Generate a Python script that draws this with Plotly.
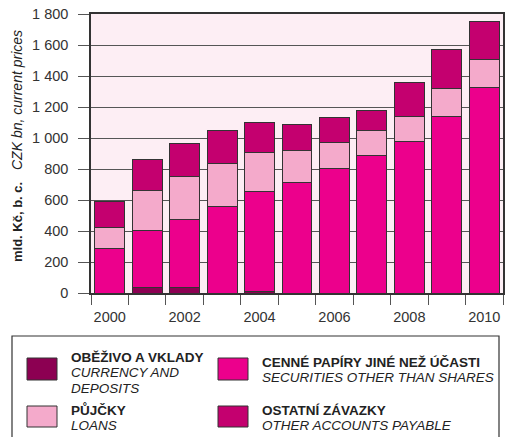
import plotly.graph_objects as go

years = [2000, 2001, 2002, 2003, 2004, 2005, 2006, 2007, 2008, 2009, 2010]
currency = [0, 37, 35, 0, 10, 0, 0, 0, 0, 0, 0]
securities = [284, 366, 439, 558, 647, 713, 803, 889, 980, 1139, 1327]
loans = [136, 258, 280, 278, 250, 204, 170, 160, 159, 181, 181]
other = [170, 201, 209, 211, 191, 173, 160, 129, 220, 250, 245]

series_cz = ["OBĚŽIVO A VKLADY", "CENNÉ PAPÍRY JINÉ NEŽ ÚČASTI", "PŮJČKY", "OSTATNÍ ZÁVAZKY"]
series_en = [["CURRENCY AND", "DEPOSITS"], ["SECURITIES OTHER THAN SHARES"], ["LOANS"], ["OTHER ACCOUNTS PAYABLE"]]
colors = ["#8c0052", "#ec008c", "#f4aacb", "#c4006f"]

y_ticks = [0, 200, 400, 600, 800, 1000, 1200, 1400, 1600, 1800]
y_ticktext = ["0", "200", "400", "600", "800", "1 000", "1 200", "1 400", "1 600", "1 800"]
x_ticktext = [str(y) if y % 2 == 0 else "" for y in years]

FONT = "Liberation Sans, Arial, Helvetica, sans-serif"
W, H = 510, 437
L, R, T, B = 91, 503, 14, 293


def px(x):
    return (x - L) / (R - L)


def py(y):
    return (B - y) / (B - T)


fig = go.Figure()
xcat = [str(y) for y in years]
for vals, col, name in zip([currency, securities, loans, other], colors, series_cz):
    fig.add_trace(go.Bar(
        x=xcat, y=vals, name=name, marker=dict(color=col, line=dict(color="#333333", width=1)),
        showlegend=False,
    ))

shapes = []
annotations = []

# legend box
shapes.append(dict(type="rect", xref="paper", yref="paper", x0=px(12), x1=px(499), y0=py(445), y1=py(336),
                   line=dict(color="#333333", width=1.2), fillcolor="rgba(0,0,0,0)", layer="above"))

sw = [(27, 57, 358, 380), (218, 248, 358, 380), (27, 57, 406, 427), (218, 248, 406, 427)]
text_x = [69, 260, 69, 260]
first_y = [357, 362, 410, 410]
for i in range(4):
    x0, x1, y0, y1 = sw[i]
    shapes.append(dict(type="rect", xref="paper", yref="paper", x0=px(x0), x1=px(x1), y0=py(y1), y1=py(y0),
                       line=dict(color="#333333", width=1), fillcolor=colors[i], layer="above"))
    lines = ["<b>" + series_cz[i] + "</b>"] + ["<i>" + t + "</i>" for t in series_en[i]]
    for j, t in enumerate(lines):
        annotations.append(dict(xref="paper", yref="paper", x=px(text_x[i]), y=py(first_y[i] + 15.5 * j),
                                xanchor="left", yanchor="middle", text=t, showarrow=False,
                                font=dict(family=FONT, size=13.5, color="#222222")))

# y axis title (two parts)
annotations.append(dict(xref="paper", yref="paper", x=px(18), y=py(222), text="<b>mld. Kč, b. c.</b>",
                        textangle=-90, showarrow=False, xanchor="center", yanchor="middle",
                        font=dict(family=FONT, size=13, color="#222222")))
annotations.append(dict(xref="paper", yref="paper", x=px(17), y=py(100), text="<i>CZK bn, current prices</i>",
                        textangle=-90, showarrow=False, xanchor="center", yanchor="middle",
                        font=dict(family=FONT, size=14, color="#222222")))

fig.update_layout(
    width=W, height=H,
    margin=dict(l=L, r=W - R, t=T, b=H - B, autoexpand=False),
    barmode="stack", bargap=0.2,
    plot_bgcolor="#fdeef4", paper_bgcolor="white",
    font=dict(family=FONT, color="#333333"),
    shapes=shapes, annotations=annotations,
    showlegend=False,
)
fig.update_xaxes(
    type="category", tickvals=xcat, ticktext=x_ticktext, tickson="boundaries", tickangle=0,
    ticks="outside", ticklen=10, tickcolor="#555555", tickwidth=1,
    showline=True, linecolor="#333333", linewidth=1.5, mirror=True, automargin=False,
    showgrid=False, tickfont=dict(size=14.5, color="#333333"), ticklabelstandoff=10,
)
fig.update_yaxes(
    range=[0, 1800], tickvals=y_ticks, ticktext=y_ticktext, automargin=False,
    ticks="outside", ticklen=11, tickcolor="#555555", tickwidth=1,
    showline=True, linecolor="#333333", linewidth=1.5, mirror=True,
    showgrid=True, gridcolor="#555555", gridwidth=1, zeroline=False,
    tickfont=dict(size=14.5, color="#333333"), ticklabelstandoff=7,
)

fig.write_html("out.html", config={"displayModeBar": False},
               post_script="document.body.style.margin='0';document.body.style.overflow='hidden';")
